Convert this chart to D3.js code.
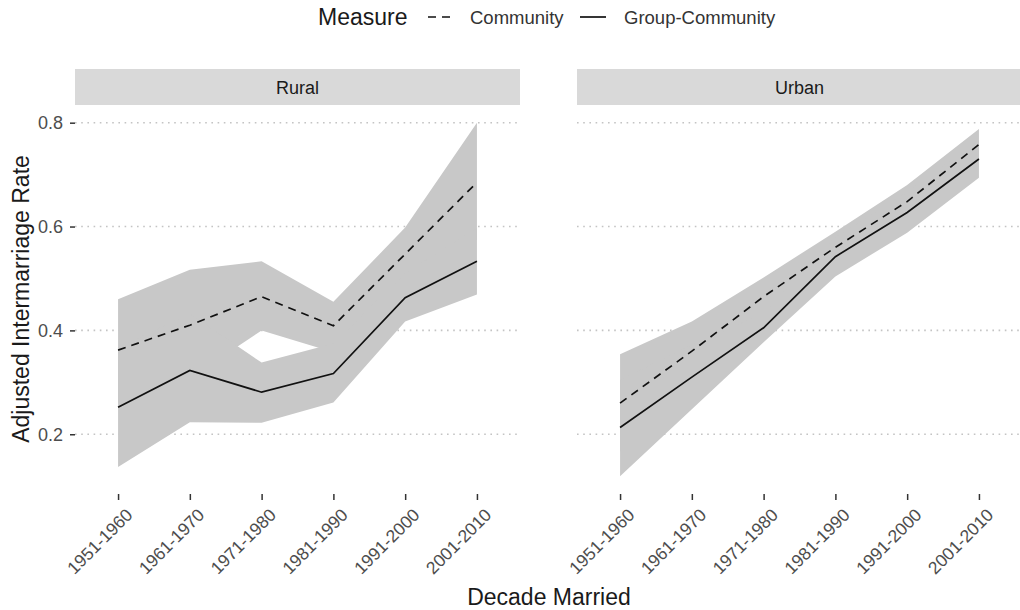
<!DOCTYPE html>
<html>
<head>
<meta charset="utf-8">
<script src="https://cdn.jsdelivr.net/npm/d3@7"></script>
<style>
  body { margin: 0; background: #fff; }
  svg { font-family: "Liberation Sans", Arial, sans-serif; }
</style>
</head>
<body>
<div id="chart"></div>
<script>
// categories and panels
const decades = ["1951-1960", "1961-1970", "1971-1980", "1981-1990", "1991-2000", "2001-2010"];
const panels = ["Rural", "Urban"];
const measures = ["Community", "Group-Community"];
const yTicks = [0.2, 0.4, 0.6, 0.8];

// Rural estimates and bounds
const ruralCommunity = [0.362, 0.41, 0.465, 0.409, 0.547, 0.685];
const ruralCommunityLow = [0.26, 0.308, 0.40, 0.358, 0.49, 0.574];
const ruralCommunityHigh = [0.46, 0.517, 0.533, 0.455, 0.598, 0.80];
const ruralGroup = [0.252, 0.323, 0.281, 0.317, 0.463, 0.533];
const ruralGroupLow = [0.137, 0.223, 0.222, 0.261, 0.417, 0.469];
const ruralGroupHigh = [0.367, 0.432, 0.338, 0.375, 0.51, 0.597];

// Urban estimates and bounds
const urbanCommunity = [0.26, 0.36, 0.465, 0.56, 0.648, 0.758];
const urbanCommunityLow = [0.166, 0.303, 0.425, 0.53, 0.62, 0.728];
const urbanCommunityHigh = [0.354, 0.417, 0.502, 0.59, 0.68, 0.788];
const urbanGroup = [0.213, 0.31, 0.405, 0.542, 0.627, 0.73];
const urbanGroupLow = [0.119, 0.248, 0.377, 0.504, 0.588, 0.694];
const urbanGroupHigh = [0.305, 0.372, 0.433, 0.58, 0.666, 0.766];

const build = (est, lo, hi) => decades.map((d, i) => ({ decade: d, est: est[i], lo: lo[i], hi: hi[i] }));

const panelData = {
    "Rural": {
        "Community": build(ruralCommunity, ruralCommunityLow, ruralCommunityHigh),
        "Group-Community": build(ruralGroup, ruralGroupLow, ruralGroupHigh)
    },
    "Urban": {
        "Community": build(urbanCommunity, urbanCommunityLow, urbanCommunityHigh),
        "Group-Community": build(urbanGroup, urbanGroupLow, urbanGroupHigh)
    }
};

const dashes = { "Community": "8,6", "Group-Community": null };

const W = 1020, H = 610;
const svg = d3.select("#chart").append("svg").attr("width", W).attr("height", H);

const plotTop = 105, plotBottom = 494;
const panelX = { "Rural": [75, 520], "Urban": [577, 1022] };

// common y scale, domain from ggplot-style expansion
const allVals = [].concat(ruralCommunityLow, ruralCommunityHigh, ruralGroupLow, ruralGroupHigh,
    urbanCommunityLow, urbanCommunityHigh, urbanGroupLow, urbanGroupHigh);
const yMin = d3.min(allVals), yMax = d3.max(allVals);
const pad = (yMax - yMin) * 0.05;
const y = d3.scaleLinear().domain([yMin - pad, yMax + pad]).range([plotBottom, plotTop]);

panels.forEach((p, pi) => {
    const [x0, x1] = panelX[p];
    const step = (x1 - x0) / (decades.length - 1 + 1.2);
    const x = d3.scalePoint().domain(decades).range([x0 + 0.6 * step, x1 - 0.6 * step]);
    const g = svg.append("g");

    // strip
    g.append("rect").attr("x", x0).attr("y", 69).attr("width", x1 - x0).attr("height", plotTop - 69)
        .attr("fill", "#d9d9d9");
    g.append("text").attr("x", (x0 + x1) / 2).attr("y", 94).attr("text-anchor", "middle")
        .attr("fill", "#1a1a1a").style("font-size", "18px").text(p);

    // grid
    g.selectAll(".grid").data(yTicks).enter().append("line")
        .attr("x1", x0).attr("x2", x1)
        .attr("y1", d => y(d)).attr("y2", d => y(d))
        .attr("stroke", "#c4c4c4").attr("stroke-width", 1.6)
        .attr("stroke-dasharray", "1.6,4.6");

    // ribbons
    measures.forEach(m => {
        const area = d3.area().x(d => x(d.decade)).y0(d => y(d.lo)).y1(d => y(d.hi));
        g.append("path").datum(panelData[p][m]).attr("d", area).attr("fill", "#c8c8c8");
    });

    // lines
    measures.forEach(m => {
        const line = d3.line().x(d => x(d.decade)).y(d => y(d.est));
        g.append("path").datum(panelData[p][m]).attr("d", line)
            .attr("fill", "none").attr("stroke", "#111").attr("stroke-width", 1.7)
            .attr("stroke-dasharray", dashes[m]);
    });

    // x axis
    const xa = g.append("g").attr("transform", `translate(0,${plotBottom})`)
        .call(d3.axisBottom(x).tickSize(6));
    xa.select(".domain").remove();
    xa.selectAll(".tick line").attr("stroke", "#333").attr("stroke-width", 1.5);
    xa.selectAll(".tick text")
        .attr("fill", "#4d4d4d").style("font-size", "17.5px")
        .attr("text-anchor", "end").attr("x", 0).attr("y", 0).attr("dy", 0)
        .attr("transform", "translate(15,22) rotate(-45)");

    // y axis only on first panel
    if (pi === 0) {
        const ya = g.append("g").attr("transform", `translate(${x0},0)`)
            .call(d3.axisLeft(y).tickValues(yTicks).tickSize(5).tickPadding(7).tickFormat(d3.format(".1f")));
        ya.select(".domain").remove();
        ya.selectAll(".tick line").attr("stroke", "#333").attr("stroke-width", 1.5);
        ya.selectAll(".tick text").attr("fill", "#4d4d4d").style("font-size", "18px");
    }
});

// axis titles
svg.append("text").attr("x", 549).attr("y", 605).attr("text-anchor", "middle")
    .attr("fill", "#1a1a1a").style("font-size", "23px").text("Decade Married");
svg.append("text").attr("transform", "translate(28.5,299) rotate(-90)").attr("text-anchor", "middle")
    .attr("fill", "#1a1a1a").style("font-size", "23px").text("Adjusted Intermarriage Rate");

// legend
const lg = svg.append("g");
lg.append("text").attr("x", 318).attr("y", 25).attr("fill", "#1a1a1a").style("font-size", "23px").text("Measure");
const legendItems = [
    { m: "Community", kx: 428, tx: 470 },
    { m: "Group-Community", kx: 580, tx: 624 }
];
legendItems.forEach(it => {
    lg.append("line").attr("x1", it.kx).attr("x2", it.kx + 26).attr("y1", 17).attr("y2", 17)
        .attr("stroke", "#111").attr("stroke-width", 1.7).attr("stroke-dasharray", dashes[it.m]);
    lg.append("text").attr("x", it.tx).attr("y", 24).attr("fill", "#333").style("font-size", "18.5px").text(it.m);
});
</script>
</body>
</html>
